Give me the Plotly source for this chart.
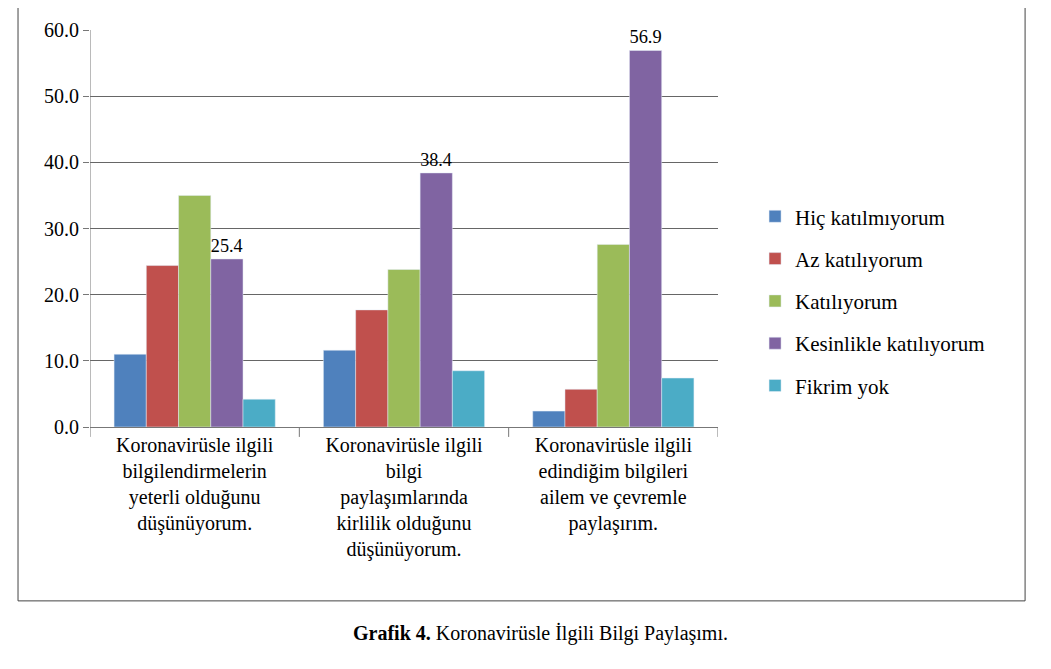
import plotly.graph_objects as go

categories = ["Koronavirüsle ilgili<br>bilgilendirmelerin<br>yeterli olduğunu<br>düşünüyorum.",
              "Koronavirüsle ilgili<br>bilgi<br>paylaşımlarında<br>kirlilik olduğunu<br>düşünüyorum.",
              "Koronavirüsle ilgili<br>edindiğim bilgileri<br>ailem ve çevremle<br>paylaşırım."]
series_names = ["Hiç katılmıyorum", "Az katılıyorum", "Katılıyorum", "Kesinlikle katılıyorum", "Fikrim yok"]
hic = [11.0, 11.6, 2.4]
az = [24.4, 17.7, 5.7]
kat = [35.0, 23.8, 27.6]
kes = [25.4, 38.4, 56.9]
fik = [4.2, 8.5, 7.4]
values = [hic, az, kat, kes, fik]
colors = ["#4F81BD", "#C0504D", "#9BBB59", "#8064A2", "#4BACC6"]
font = "Liberation Serif"

fig = go.Figure()
for i, (n, v, c) in enumerate(zip(series_names, values, colors)):
    fig.add_trace(go.Bar(
        x=categories, y=v, name=n, marker_color=c, legendgroup=n,
        text=[f"{x:.1f}" for x in v] if i == 3 else None,
        textposition="outside", cliponaxis=False,
        textfont=dict(size=21, color="black", family=font)))

shapes = [dict(type="rect", xref="paper", yref="paper", x0=-0.1146, x1=1.489, y0=-0.438, y1=1.063,
               line=dict(color="#444", width=1))]
for xv in [-0.5, 0.5, 1.5, 2.5]:
    shapes.append(dict(type="line", xref="x", yref="paper", x0=xv, x1=xv, y0=0, y1=-0.025,
                       line=dict(color="#777", width=1)))
shapes.append(dict(type="line", xref="x", yref="paper", x0=-0.5, x1=-0.5, y0=0, y1=1,
                   line=dict(color="#777", width=1)))

fig.update_layout(
    width=1043, height=661, margin=dict(l=82, r=333, t=22, b=242),
    plot_bgcolor="white", paper_bgcolor="white",
    barmode="group", bargap=0.23, bargroupgap=0,
    font=dict(family=font, size=20, color="black"),
    xaxis=dict(showgrid=False, tickfont=dict(size=20), ticks="", showline=True,
               linecolor="#777", range=[-0.5, 2.5]),
    yaxis=dict(range=[0, 60], dtick=10, tickformat=".1f", gridcolor="#666",
               showline=False, ticks="outside", ticklen=6, tickcolor="#777",
               tickfont=dict(size=20), zeroline=False),
    legend=dict(x=1.059, y=0.317, yanchor="middle", font=dict(size=21, family=font),
                tracegroupgap=12, itemwidth=30),
    shapes=shapes,
    annotations=[dict(xref="paper", yref="paper", x=0.717, y=-0.555, xanchor="center",
                      showarrow=False,
                      text="<b>Grafik 4.</b> Koronavirüsle İlgili Bilgi Paylaşımı.",
                      font=dict(size=20, family=font))],
)
fig.write_html("out.html")
